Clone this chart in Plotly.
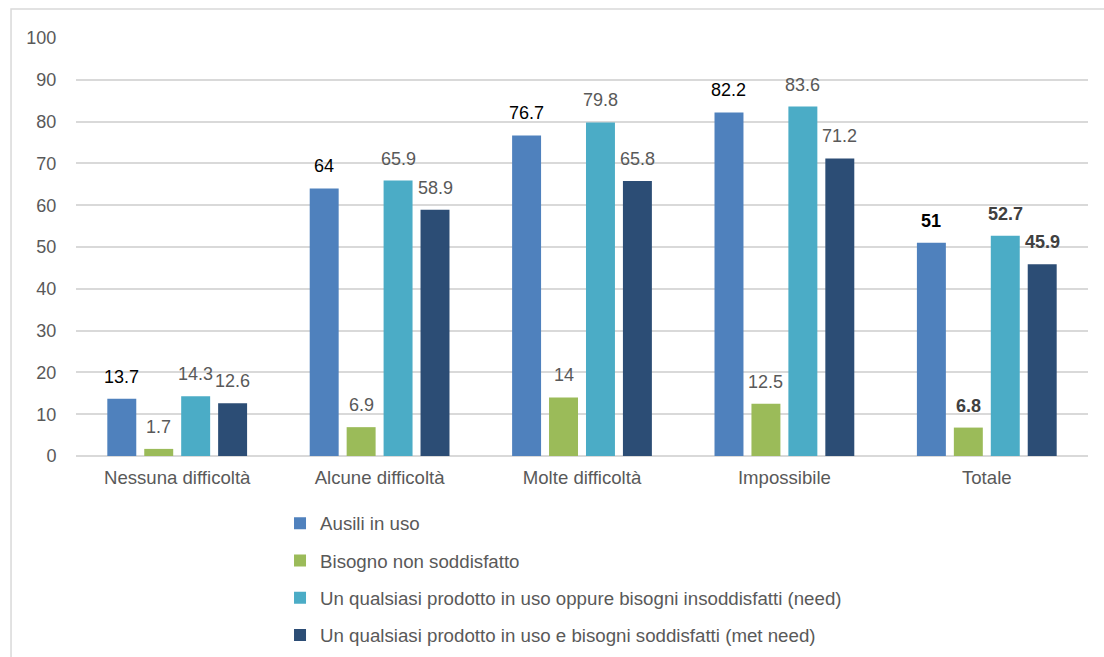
import plotly.graph_objects as go

categories = ["Nessuna difficoltà", "Alcune difficoltà", "Molte difficoltà", "Impossibile", "Totale"]
series_names = [
    "Ausili in uso",
    "Bisogno non soddisfatto",
    "Un qualsiasi prodotto in uso oppure bisogni insoddisfatti (need)",
    "Un qualsiasi prodotto in uso e bisogni soddisfatti (met need)",
]
ausili = [13.7, 64, 76.7, 82.2, 51]
bisogno = [1.7, 6.9, 14, 12.5, 6.8]
need = [14.3, 65.9, 79.8, 83.6, 52.7]
met_need = [12.6, 58.9, 65.8, 71.2, 45.9]
y_ticks = [0, 10, 20, 30, 40, 50, 60, 70, 80, 90, 100]

series = [ausili, bisogno, need, met_need]
colors = ["#4F81BD", "#9BBB59", "#4BACC6", "#2C4D75"]
FONT = "Liberation Sans, Arial, sans-serif"

fig = go.Figure()
for i, (name, vals, col) in enumerate(zip(series_names, series, colors)):
    fig.add_trace(go.Bar(
        x=categories, y=vals, name=name, marker=dict(color=col, line=dict(width=0)),
        legendgroup=f"g{i}",
    ))

slot_px = 37
for i, vals in enumerate(series):
    for j, (c, v) in enumerate(zip(categories, vals)):
        is_total = (j == len(categories) - 1)
        if i == 0:
            color = "#000000"
        else:
            color = "#404040" if is_total else "#595959"
        txt = f"<b>{v:g}</b>" if is_total else f"{v:g}"
        fig.add_annotation(
            x=c, y=v, text=txt, showarrow=False,
            xshift=(i - 1.5) * slot_px, yshift=22,
            font=dict(family=FONT, size=18, color=color),
            xanchor="center", yanchor="middle",
        )

# outer chart border
fig.add_shape(type="rect", xref="paper", yref="paper",
              x0=-0.0642, x1=1.05, y0=-0.7, y1=1.0694,
              line=dict(color="#D9D9D9", width=1.5), fillcolor="rgba(0,0,0,0)")

fig.update_layout(
    width=1104, height=657,
    margin=dict(l=76, r=16, t=38, b=201, autoexpand=False),
    paper_bgcolor="white", plot_bgcolor="white",
    barmode="group", bargap=0.27, bargroupgap=0.216,
    font=dict(family=FONT, size=18, color="#595959"),
    showlegend=True,
    legend=dict(
        orientation="v", x=0.2016, y=-0.116, xanchor="left", yanchor="top",
        font=dict(family=FONT, size=18.7, color="#595959"),
        tracegroupgap=10, itemwidth=30,
    ),
    xaxis=dict(
        showgrid=False, showline=False, ticks="outside", ticklen=5,
        tickcolor="rgba(0,0,0,0)",
        tickfont=dict(family=FONT, size=18.6, color="#595959"),
        automargin=False,
    ),
    yaxis=dict(
        range=[0, 100], tickvals=y_ticks, showgrid=True,
        gridcolor="#D9D9D9", gridwidth=1.5, zeroline=True,
        zerolinecolor="#D9D9D9", zerolinewidth=1.5, showline=False,
        ticks="outside", ticklen=15, tickcolor="rgba(0,0,0,0)",
        tickfont=dict(family=FONT, size=18, color="#595959"),
        automargin=False,
    ),
)

fig.write_html("out.html")
